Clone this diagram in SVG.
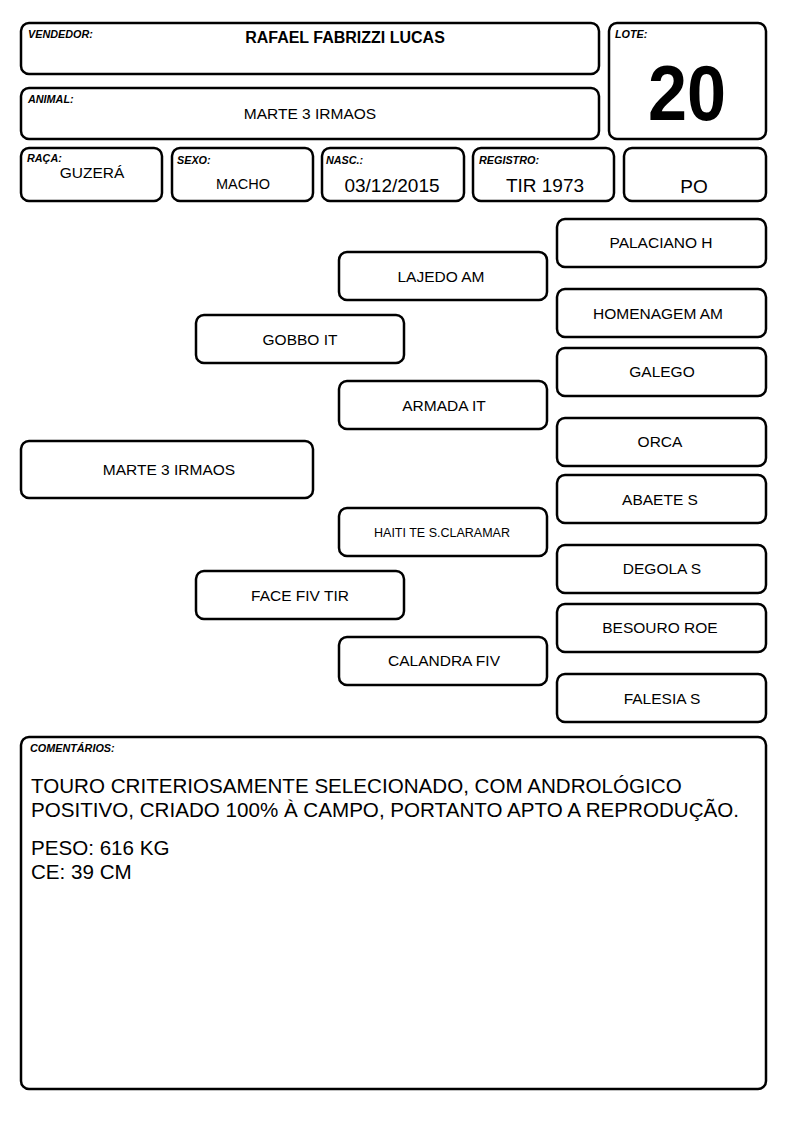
<svg xmlns="http://www.w3.org/2000/svg" width="794" height="1123" viewBox="0 0 794 1123">
<style>
.b{fill:#fff;stroke:#000;stroke-width:2.5}
.l{font-family:"Liberation Sans",Arial,sans-serif;font-size:10.8px;font-weight:bold;font-style:italic}
.t{font-family:"Liberation Sans",Arial,sans-serif;font-size:15.5px;text-anchor:middle}
.c{font-family:"Liberation Sans",Arial,sans-serif;font-size:20.6px}
</style>
<rect width="794" height="1123" fill="#fff"/>
<g id="vendedor"><rect class="b" x="21" y="23" width="578" height="51" rx="8"/><text class="l" x="28" y="38">VENDEDOR:</text><text class="t" x="345" y="43" style="font-weight:bold;font-size:16px">RAFAEL FABRIZZI LUCAS</text></g>
<g id="animal"><rect class="b" x="21" y="88" width="578" height="51" rx="8"/><text class="l" x="28" y="103">ANIMAL:</text><text class="t" x="310" y="119">MARTE 3 IRMAOS</text></g>
<g id="lote"><rect class="b" x="609" y="23" width="157" height="116" rx="8"/><text class="l" x="615" y="38">LOTE:</text><text class="t" x="687" y="120" style="font-weight:bold;font-size:78px" textLength="78" lengthAdjust="spacingAndGlyphs">20</text></g>
<g id="raca"><rect class="b" x="21" y="148" width="141" height="53" rx="8"/><text class="l" x="27" y="162">RAÇA:</text><text class="t" x="92" y="178">GUZERÁ</text></g>
<g id="sexo"><rect class="b" x="172" y="148" width="141" height="53" rx="8"/><text class="l" x="177" y="164">SEXO:</text><text class="t" x="243" y="189" style="font-size:14.5px">MACHO</text></g>
<g id="nasc"><rect class="b" x="322" y="148" width="142" height="53" rx="8"/><text class="l" x="326" y="164">NASC.:</text><text class="t" x="392" y="192" style="font-size:19px">03/12/2015</text></g>
<g id="registro"><rect class="b" x="473" y="148" width="141" height="53" rx="8"/><text class="l" x="479" y="164">REGISTRO:</text><text class="t" x="545" y="192" style="font-size:19px">TIR 1973</text></g>
<g id="po"><rect class="b" x="624" y="148" width="142" height="53" rx="8"/><text class="t" x="694" y="193" style="font-size:19px">PO</text></g>

<g id="n-marte"><rect class="b" x="21" y="441" width="292" height="57" rx="8"/><text class="t" x="169" y="475">MARTE 3 IRMAOS</text></g>
<g id="n-gobbo"><rect class="b" x="196" y="315" width="208" height="48" rx="8"/><text class="t" x="300" y="345">GOBBO IT</text></g>
<g id="n-face"><rect class="b" x="196" y="571" width="208" height="48" rx="8"/><text class="t" x="300" y="601">FACE FIV TIR</text></g>
<g id="n-lajedo"><rect class="b" x="339" y="252" width="208" height="48" rx="8"/><text class="t" x="441" y="282">LAJEDO AM</text></g>
<g id="n-armada"><rect class="b" x="339" y="381" width="208" height="48" rx="8"/><text class="t" x="444" y="411">ARMADA IT</text></g>
<g id="n-haiti"><rect class="b" x="339" y="508" width="208" height="48" rx="8"/><text class="t" x="442" y="537" style="font-size:12.5px">HAITI TE S.CLARAMAR</text></g>
<g id="n-calandra"><rect class="b" x="339" y="637" width="208" height="48" rx="8"/><text class="t" x="444" y="666">CALANDRA FIV</text></g>
<g id="n-palaciano"><rect class="b" x="557" y="219" width="209" height="48" rx="8"/><text class="t" x="661" y="248">PALACIANO H</text></g>
<g id="n-homenagem"><rect class="b" x="557" y="289" width="209" height="48" rx="8"/><text class="t" x="658" y="319">HOMENAGEM AM</text></g>
<g id="n-galego"><rect class="b" x="557" y="348" width="209" height="48" rx="8"/><text class="t" x="662" y="377">GALEGO</text></g>
<g id="n-orca"><rect class="b" x="557" y="418" width="209" height="48" rx="8"/><text class="t" x="660" y="447">ORCA</text></g>
<g id="n-abaete"><rect class="b" x="557" y="475" width="209" height="48" rx="8"/><text class="t" x="660" y="505">ABAETE S</text></g>
<g id="n-degola"><rect class="b" x="557" y="545" width="209" height="48" rx="8"/><text class="t" x="662" y="574">DEGOLA S</text></g>
<g id="n-besouro"><rect class="b" x="557" y="604" width="209" height="48" rx="8"/><text class="t" x="660" y="633">BESOURO ROE</text></g>
<g id="n-falesia"><rect class="b" x="557" y="674" width="209" height="48" rx="8"/><text class="t" x="662" y="704">FALESIA S</text></g>
<g id="connectors"></g>

<g id="comentarios"><rect class="b" x="21" y="737" width="745" height="352" rx="8"/><text class="l" x="30" y="752">COMENTÁRIOS:</text>
<text class="c" x="31" y="793">TOURO CRITERIOSAMENTE SELECIONADO, COM ANDROLÓGICO</text>
<text class="c" x="31" y="817">POSITIVO, CRIADO 100% À CAMPO, PORTANTO APTO A REPRODUÇÃO.</text>
<text class="c" x="31" y="855">PESO: 616 KG</text>
<text class="c" x="31" y="879">CE: 39 CM</text></g>
</svg>
